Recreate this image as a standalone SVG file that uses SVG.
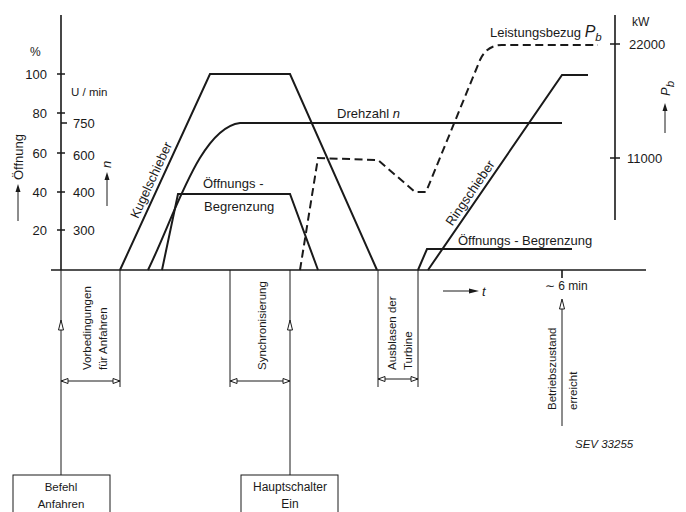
<svg xmlns="http://www.w3.org/2000/svg" width="686" height="512" viewBox="0 0 686 512">
<style>
text{font-family:"Liberation Sans",Arial,sans-serif;fill:#1a1a1a}
.t13{font-size:13px}
.t12{font-size:12px}
.t11{font-size:11.5px}
.it{font-style:italic}
.ax{stroke:#1a1a1a;stroke-width:1.6;fill:none}
.thin{stroke:#1a1a1a;stroke-width:1;fill:none}
.cv{stroke:#1a1a1a;stroke-width:2;fill:none;stroke-linejoin:miter}
.dash{stroke:#1a1a1a;stroke-width:2;fill:none;stroke-dasharray:8 4.5}
.oh{stroke:#1a1a1a;stroke-width:1;fill:#fff}
</style>
<rect width="686" height="512" fill="#fff"/>

<g id="axes">
<path class="ax" d="M61,15 V270 M51,270 H646 M615,15 V220"/>
<path class="ax" d="M57,74 H65 M57,113 H65 M61,123 H67 M57,153 H65 M57,192 H65 M57,230 H65"/>
<path class="ax" d="M610,44 H620 M610,158 H620 M562,270 V278"/>
</g>

<g id="left-scale">
<text class="t12" x="30" y="56">%</text>
<text class="t13" x="47" y="79" text-anchor="end">100</text>
<text class="t13" x="47" y="118" text-anchor="end">80</text>
<text class="t13" x="47" y="158" text-anchor="end">60</text>
<text class="t13" x="47" y="197" text-anchor="end">40</text>
<text class="t13" x="47" y="235" text-anchor="end">20</text>
<text class="t11" x="71" y="96">U / min</text>
<text class="t13" x="73" y="128">750</text>
<text class="t13" x="73" y="160">600</text>
<text class="t13" x="73" y="197">400</text>
<text class="t13" x="73" y="235">300</text>
<text class="t13" transform="translate(23,180) rotate(-90)">Öffnung</text>
<path class="thin" d="M18,221 V190"/>
<path d="M18,184 L15.5,192 L20.5,192 Z" fill="#1a1a1a"/>
<text class="t13 it" transform="translate(111,168) rotate(-90)">n</text>
<path class="thin" d="M107,206 V178"/>
<path d="M107,172 L104.5,180 L109.5,180 Z" fill="#1a1a1a"/>
</g>

<g id="right-scale">
<text class="t12" x="632" y="26">kW</text>
<text class="t13" x="629" y="49">22000</text>
<text class="t13" x="627" y="163">11000</text>
<g transform="translate(670,96) rotate(-90)"><text class="t13 it" x="0" y="0" font-size="15">P<tspan class="t11" dy="4">b</tspan></text></g>
<path class="thin" d="M665,133 V110"/>
<path d="M665,103 L662.5,111 L667.5,111 Z" fill="#1a1a1a"/>
</g>

<g id="curves">
<path id="kugelschieber" class="cv" d="M120,270 L210,74 L290,74 L377,270"/>
<path id="drehzahl" class="cv" d="M148,270 C175,215 200,128 240,123 L562,123"/>
<path id="begrenzung1" class="cv" d="M162,270 L178,194 L290,194 L318,270"/>
<path id="leistung" class="dash" d="M300,270 L318,158 L378,160 L415,192 L426,192 L480,60 Q487,45 502,45 L598,45"/>
<path id="ringschieber" class="cv" d="M428,270 L562,75 L588,75"/>
<path id="begrenzung2" class="cv" d="M418,270 L427,249 L572,249"/>
</g>

<g id="curve-labels">
<text class="t13" font-size="13.5" text-anchor="middle" transform="translate(151,180) rotate(-65.3)" y="4.5">Kugelschieber</text>
<text class="t13" font-size="13.5" text-anchor="middle" transform="translate(470,193) rotate(-55.5)" y="4.5">Ringschieber</text>
<text class="t13" x="337" y="118">Drehzahl <tspan class="it">n</tspan></text>
<text class="t13" x="203" y="188">Öffnungs -</text>
<text class="t13" x="204" y="211">Begrenzung</text>
<text class="t13" x="458" y="245">Öffnungs - Begrenzung</text>
<text class="t13" x="490" y="37">Leistungsbezug <tspan class="it" font-size="16">P</tspan><tspan class="it t11" dy="4">b</tspan></text>
</g>

<g id="connectors">
<path class="thin" d="M61,270 V475 M120,270 V387 M230,270 V387 M290,270 V475 M378,270 V387 M418,270 V387"/>
<path class="thin" d="M61,381 H120 M230,381 H290 M378,379 H418"/>
<path class="oh" d="M61,381 L68,378.5 L68,383.5 Z M120,381 L113,378.5 L113,383.5 Z"/>
<path class="oh" d="M230,381 L237,378.5 L237,383.5 Z M290,381 L283,378.5 L283,383.5 Z"/>
<path class="oh" d="M378,379 L385,376.5 L385,381.5 Z M418,379 L411,376.5 L411,381.5 Z"/>
<path class="oh" d="M61,320 L58.5,330 L63.5,330 Z M290,320 L287.5,330 L290,330 L292.5,330 Z"/>
<path class="thin" d="M562,426 V306"/>
<path class="oh" d="M562,299 L559.5,309 L564.5,309 Z"/>
<path class="thin" d="M443,291 H472"/>
<path d="M479,291 L469,288.5 L469,293.5 Z" fill="#1a1a1a"/>
</g>

<g id="phase-labels">
<text class="t11" transform="translate(91,370) rotate(-90)">Vorbedingungen</text>
<text class="t11" transform="translate(107,370) rotate(-90)">für Anfahren</text>
<text class="t11" transform="translate(266,370) rotate(-90)">Synchronisierung</text>
<text class="t11" transform="translate(396,370) rotate(-90)">Ausblasen der</text>
<text class="t11" transform="translate(412,370) rotate(-90)">Turbine</text>
<text class="t11" transform="translate(556,410) rotate(-90)">Betriebszustand</text>
<text class="t11" transform="translate(577,410) rotate(-90)">erreicht</text>
<text class="t13 it" x="482" y="296">t</text>
<text class="t12" x="545" y="290">∼ 6 min</text>
<text class="t11 it" x="575" y="448">SEV 33255</text>
</g>

<g id="box-befehl">
<rect class="thin" x="13" y="475" width="97" height="45"/>
<text class="t11" x="61" y="491" text-anchor="middle">Befehl</text>
<text class="t11" x="61" y="508" text-anchor="middle">Anfahren</text>
</g>
<g id="box-hauptschalter">
<rect class="thin" x="241" y="475" width="97" height="45"/>
<text class="t12" x="290" y="491" text-anchor="middle">Hauptschalter</text>
<text class="t12" x="290" y="508" text-anchor="middle">Ein</text>
</g>
</svg>
